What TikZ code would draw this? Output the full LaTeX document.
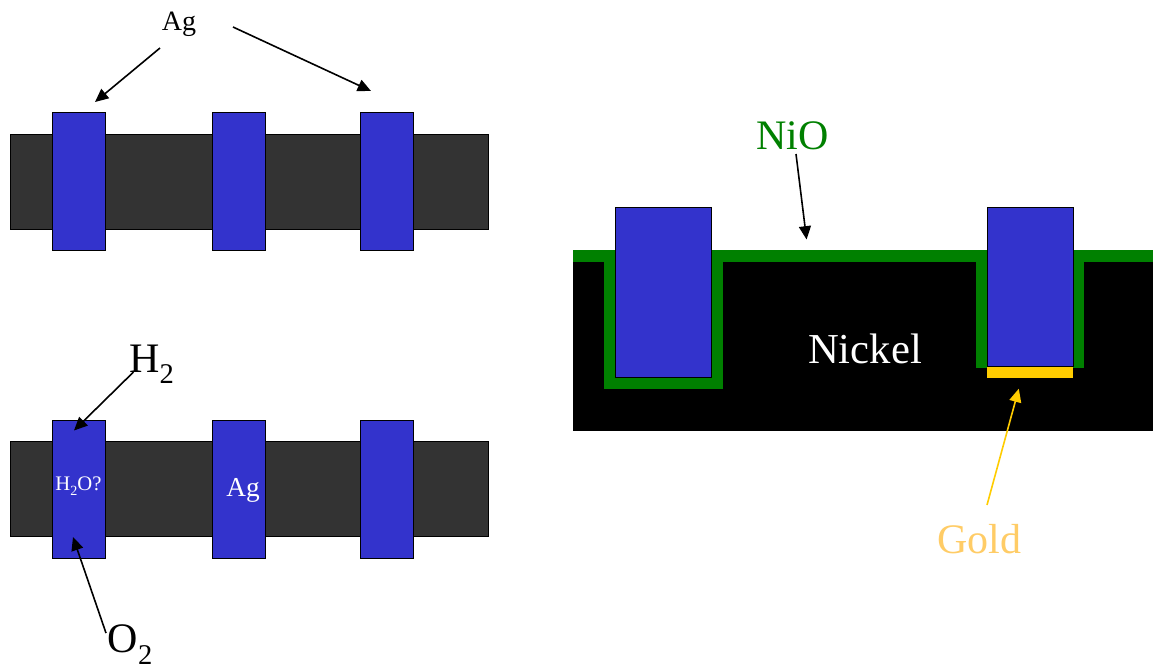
\documentclass[tikz,border=0pt]{standalone}
\usepackage{fontspec}
\setmainfont{Liberation Serif}
\usetikzlibrary{arrows.meta}
\definecolor{padblue}{HTML}{3333CC}
\definecolor{bardark}{HTML}{333333}
\definecolor{niogreen}{HTML}{008000}
\definecolor{goldtone}{HTML}{FFCC00}
\definecolor{goldtext}{HTML}{FFCC66}
\newcommand{\lowsub}[1]{\raisebox{-.27em}{\scalebox{.68}{#1}}}
\tikzset{
  x=0.75pt,y=-0.75pt,
  block/.style={anchor=north west,inner sep=0pt,outer sep=0pt,line width=0.75pt},
  bar/.style={block,draw=black,fill=bardark,minimum width=358.75pt,minimum height=71.5pt},
  pad/.style={block,draw=black,fill=padblue,minimum width=40pt,minimum height=103.5pt},
  deep/.style={block,draw=black,fill=padblue,minimum width=72pt},
  label/.style={inner sep=0pt,outer sep=0pt,text=black},
  pointer/.style={-{Triangle[length=10pt,width=9pt]},line width=1.2pt,black},
}
\begin{document}
\begin{tikzpicture}
\useasboundingbox (0,0) rectangle (1153,668);
% upper strip
\node[bar] (bar1) at (10,134) {};
\node[pad] (p1) at (52.5,112.5) {};
\node[pad] (p2) at (212,112.5) {};
\node[pad] (p3) at (360.5,112.5) {};
% lower strip
\node[bar] (bar2) at (10,441) {};
\node[pad] (q1) at (52.5,420) {};
\node[pad] (q2) at (212,420) {};
\node[pad] (q3) at (360.5,420) {};
% nickel cross section
\node[block,fill=black,minimum width=435.4pt,minimum height=135.75pt] (ni) at (572.5,250) {};
\node[block,fill=niogreen,minimum width=435.4pt,minimum height=8.8pt] (nio) at (572.5,250) {};
\node[block,fill=niogreen,minimum width=88.7pt,minimum height=104pt] (t1) at (604.3,250) {};
\node[block,fill=niogreen,minimum width=80.9pt,minimum height=88.3pt] (t2) at (976.4,250) {};
\node[deep,minimum height=127.5pt] (d1) at (615,207.7) {};
\node[deep,minimum width=64.2pt,minimum height=119pt] (d2) at (987.4,207.7) {};
\node[block,fill=goldtone,minimum width=64.5pt,minimum height=8.5pt] (au) at (987,366.7) {};
% labels
\node[label,font=\fontsize{21}{21}\selectfont] (lAg) at (179,24) {Ag};
\node[label,font=\fontsize{31.5}{32}\selectfont] (lH) at (151.5,364) {H\lowsub{2}};
\node[label,font=\fontsize{31.5}{32}\selectfont] (lO) at (130,644.5) {O\lowsub{2}};
\node[label,text=white,font=\fontsize{15.5}{16}\selectfont] (lW) at (78.5,486) {H\lowsub{2}O?};
\node[label,text=white,font=\fontsize{20.5}{21}\selectfont] (lA) at (243,490) {Ag};
\node[label,text=niogreen,font=\fontsize{31.5}{32}\selectfont] (lN) at (792.5,136) {NiO};
\node[label,text=white,font=\fontsize{32}{32}\selectfont] (lK) at (865,349) {Nickel};
\node[label,text=goldtext,font=\fontsize{31.5}{32}\selectfont] (lG) at (979,539) {Gold};
% connector ends
\coordinate (a1s) at (160,48);   \coordinate (a1e) at (95,102);
\coordinate (a2s) at (233,27);   \coordinate (a2e) at (371,91);
\coordinate (hs) at (133.5,372); \coordinate (he) at (74,430.5);
\coordinate (os) at (106,633);   \coordinate (oe) at (73,537);
\coordinate (ns) at (796,154);   \coordinate (ne) at (806.6,239.5);
\coordinate (gs) at (987,505);   \coordinate (ge) at (1018.8,388.7);
\draw[pointer] (a1s) -- (a1e);
\draw[pointer] (a2s) -- (a2e);
\draw[pointer] (hs) -- (he);
\draw[pointer] (os) -- (oe);
\draw[pointer] (ns) -- (ne);
\draw[pointer,draw=goldtone,fill=goldtone] (gs) -- (ge);
\end{tikzpicture}
\end{document}
